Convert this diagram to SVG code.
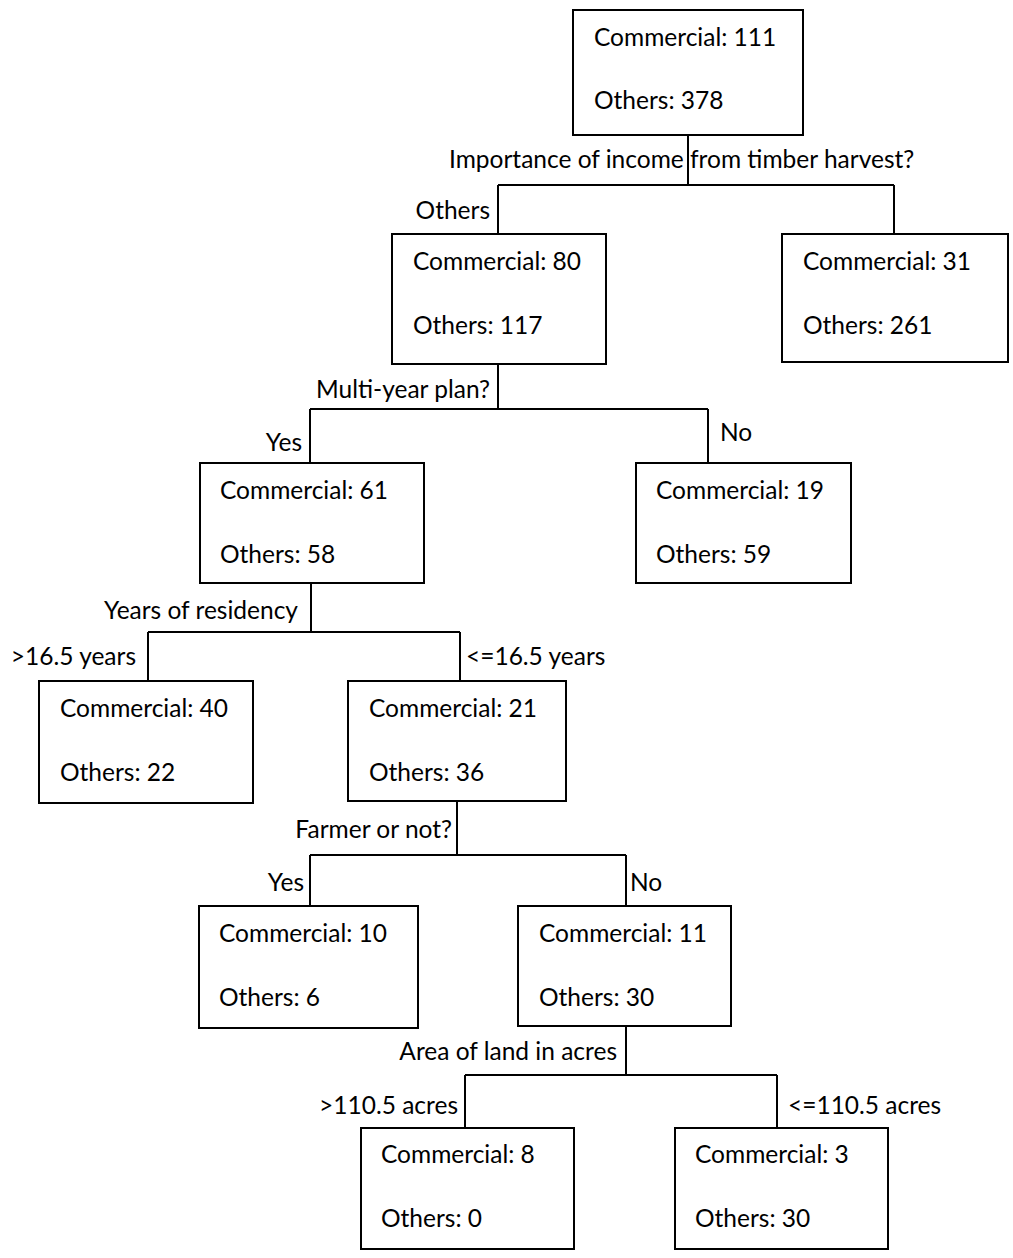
<svg xmlns="http://www.w3.org/2000/svg" width="1013" height="1258" viewBox="0 0 1013 1258">
<style>
.box{fill:#fff;stroke:#000;stroke-width:2}
.t{font-family:Lato,"Liberation Sans",sans-serif;font-size:24.5px;fill:#000}
.e{font-family:Lato,"Liberation Sans",sans-serif;font-size:24.5px;fill:#000}
.c{stroke:#000;stroke-width:2;fill:none}
</style>
<rect width="1013" height="1258" fill="#fff"/>
<g id="connectors">
<path class="c" d="M688,135V185M498,185H894M498,185V234M894,185V234"/>
<path class="c" d="M498,364V409M310,409H708M310,409V463M708,409V463"/>
<path class="c" d="M311,583V632M148,632H460M148,632V681M460,632V681"/>
<path class="c" d="M457,801V855M310,855H626M310,855V906M626,855V906"/>
<path class="c" d="M626,1026V1075M465,1075H777M465,1075V1128M777,1075V1128"/>
<text class="e" x="449" y="168">Importance of income from timber harvest?</text>
<text class="e" x="490" y="219" text-anchor="end">Others</text>
<text class="e" x="490" y="398" text-anchor="end">Multi-year plan?</text>
<text class="e" x="302" y="451" text-anchor="end">Yes</text>
<text class="e" x="720" y="441">No</text>
<text class="e" x="298" y="619" text-anchor="end">Years of residency</text>
<text class="e" x="136" y="665" text-anchor="end">&gt;16.5 years</text>
<text class="e" x="466" y="665">&lt;=16.5 years</text>
<text class="e" x="452" y="838" text-anchor="end">Farmer or not?</text>
<text class="e" x="304" y="891" text-anchor="end">Yes</text>
<text class="e" x="630" y="891">No</text>
<text class="e" x="617" y="1060" text-anchor="end">Area of land in acres</text>
<text class="e" x="458" y="1114" text-anchor="end">&gt;110.5 acres</text>
<text class="e" x="788" y="1114">&lt;=110.5 acres</text>
</g>
<g id="n0"><rect class="box" x="573" y="10" width="230" height="125"/><text class="t" x="594" y="46">Commercial: 111</text><text class="t" x="594" y="109">Others: 378</text></g>
<g id="n1"><rect class="box" x="392" y="234" width="214" height="130"/><text class="t" x="413" y="270">Commercial: 80</text><text class="t" x="413" y="334">Others: 117</text></g>
<g id="n2"><rect class="box" x="782" y="234" width="226" height="128"/><text class="t" x="803" y="270">Commercial: 31</text><text class="t" x="803" y="334">Others: 261</text></g>
<g id="n3"><rect class="box" x="200" y="463" width="224" height="120"/><text class="t" x="220" y="499">Commercial: 61</text><text class="t" x="220" y="563">Others: 58</text></g>
<g id="n4"><rect class="box" x="636" y="463" width="215" height="120"/><text class="t" x="656" y="499">Commercial: 19</text><text class="t" x="656" y="563">Others: 59</text></g>
<g id="n5"><rect class="box" x="39" y="681" width="214" height="122"/><text class="t" x="60" y="717">Commercial: 40</text><text class="t" x="60" y="781">Others: 22</text></g>
<g id="n6"><rect class="box" x="348" y="681" width="218" height="120"/><text class="t" x="369" y="717">Commercial: 21</text><text class="t" x="369" y="781">Others: 36</text></g>
<g id="n7"><rect class="box" x="199" y="906" width="219" height="122"/><text class="t" x="219" y="942">Commercial: 10</text><text class="t" x="219" y="1006">Others: 6</text></g>
<g id="n8"><rect class="box" x="518" y="906" width="213" height="120"/><text class="t" x="539" y="942">Commercial: 11</text><text class="t" x="539" y="1006">Others: 30</text></g>
<g id="n9"><rect class="box" x="361" y="1128" width="213" height="121"/><text class="t" x="381" y="1163">Commercial: 8</text><text class="t" x="381" y="1227">Others: 0</text></g>
<g id="n10"><rect class="box" x="675" y="1128" width="213" height="121"/><text class="t" x="695" y="1163">Commercial: 3</text><text class="t" x="695" y="1227">Others: 30</text></g>
</svg>
